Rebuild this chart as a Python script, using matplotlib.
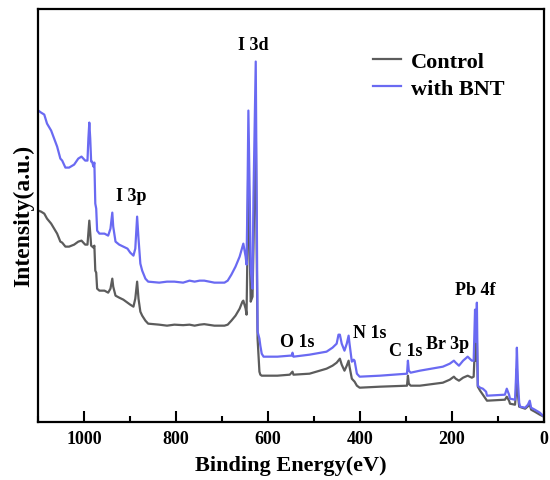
import matplotlib
matplotlib.use("Agg")
import matplotlib.pyplot as plt
from matplotlib.ticker import MultipleLocator

# XPS survey spectra: binding energy (eV) and intensity (a.u.)
be_control = [1100, 1094, 1087, 1081, 1072, 1063, 1059, 1052, 1048, 1041, 1033, 1022,
              1013, 1006, 998, 993, 989, 985, 980, 978, 976, 974, 972, 967, 956, 948,
              943, 939, 937, 932, 924, 915, 906, 900, 893, 889, 885, 882, 878, 874,
              867, 861, 837, 820, 804, 785, 771, 760, 749, 739, 717, 695, 688, 680,
              671, 662, 656, 654, 649, 647, 645, 643, 640, 638, 634, 632, 627, 625,
              623, 619, 617, 614, 610, 580, 553, 547, 545, 510, 473, 460, 451, 444,
              440, 434, 429, 425, 423, 418, 412, 407, 401, 357, 298, 296, 294, 290,
              270, 220, 205, 196, 192, 185, 176, 166, 157, 153, 150, 148, 146, 144,
              139, 133, 124, 85, 81, 76, 74, 63, 61, 59, 57, 54, 41, 31, 28, 20, 9, 0]
int_control = [211, 210, 208, 203, 198, 191, 188, 180, 179, 175, 175, 177,
               180, 181, 177, 177, 201, 176, 174, 176, 151, 149, 133, 131, 131, 129,
               133, 143, 135, 126, 124, 122, 119, 117, 115, 123, 140, 123, 110, 106,
               101, 98, 97, 96, 97, 96.5, 97, 96, 97, 97.5, 96, 96, 97, 101,
               106, 113, 120, 121, 113, 107, 173, 273, 173, 120, 125, 173, 303, 173,
               83, 50, 47, 46, 46, 46, 47, 50, 47, 48, 53, 56, 59, 63,
               57, 51, 56, 61, 55, 43, 40, 36, 34, 35, 36, 46, 38, 36,
               36, 39, 42, 45, 43, 41, 44, 46, 44, 45, 78, 61, 83, 35,
               31, 27, 21, 22, 25, 21, 18, 17, 28, 53, 28, 15, 13, 17, 12, 10, 7, 5]

be_bnt = [1100, 1094, 1087, 1081, 1072, 1063, 1059, 1052, 1048, 1041, 1033, 1022,
          1013, 1006, 998, 993, 991, 989, 987, 985, 983, 980, 978, 976, 974, 972,
          967, 956, 948, 943, 939, 937, 932, 924, 915, 906, 900, 893, 889, 885,
          882, 878, 874, 867, 861, 837, 820, 804, 785, 771, 760, 749, 739, 717,
          695, 688, 680, 671, 662, 656, 654, 649, 647, 645, 643, 640, 638, 634,
          632, 627, 625, 623, 619, 617, 614, 610, 580, 553, 549, 547, 545, 510,
          473, 460, 451, 447, 444, 440, 434, 429, 425, 423, 418, 414, 412, 407,
          401, 357, 298, 296, 294, 290, 270, 220, 205, 196, 192, 185, 176, 166,
          157, 153, 150, 148, 146, 144, 139, 133, 126, 124, 85, 81, 76, 74,
          63, 61, 59, 57, 54, 52, 41, 35, 31, 28, 20, 9, 0]
int_bnt = [311, 309, 307, 298, 291, 280, 275, 263, 261, 254, 254, 257,
           263, 265, 261, 261, 283, 299, 283, 260, 260, 255, 259, 218, 213, 191,
           188, 188, 186, 193, 209, 195, 180, 177, 175, 173, 169, 166, 173, 205,
           183, 158, 151, 143, 140, 139, 140, 140, 139, 141, 140, 141, 141, 139,
           139, 141, 147, 155, 165, 175, 178, 165, 157, 223, 311, 223, 153, 133,
           223, 360, 223, 90, 83, 76, 68, 65, 65, 66, 66, 69, 65, 67,
           70, 74, 78, 87, 87, 78, 71, 78, 86, 78, 60, 62, 61, 48,
           45, 46, 48, 61, 51, 49, 51, 55, 58, 61, 59, 56, 61, 65,
           61, 61, 112, 80, 119, 36, 34, 33, 30, 26, 27, 33, 27, 23,
           22, 43, 74, 43, 19, 15, 14, 17, 21, 14, 12, 9, 5]

series_names = ["Control", "with BNT"]
series_colors = ["#5c5c5c", "#6a6af2"]

peak_labels = ["I 3d", "I 3p", "O 1s", "N 1s", "C 1s", "Br 3p", "Pb 4f"]
peak_label_be = [632, 898, 536, 379, 301, 209, 150]
peak_label_int = [377, 226, 80, 89, 71, 78, 132]

plt.rcParams["font.family"] = ["Liberation Serif", "DejaVu Serif"]
plt.rcParams["font.weight"] = "bold"

fig = plt.figure(figsize=(5.5, 4.81), dpi=100)
ax = fig.add_axes([0.0696, 0.1212, 0.9195, 0.859])

ax.plot(be_control, int_control, color=series_colors[0], lw=1.6, label=series_names[0])
ax.plot(be_bnt, int_bnt, color=series_colors[1], lw=1.6, label=series_names[1])

for txt, xb, yi in zip(peak_labels, peak_label_be, peak_label_int):
    ax.text(xb, yi, txt, ha="center", va="center", fontsize=13, fontweight="bold")

ax.set_xlim(1100, 0)
ax.set_ylim(0, 413)
ax.xaxis.set_major_locator(MultipleLocator(200))
ax.xaxis.set_minor_locator(MultipleLocator(100))
ax.tick_params(axis="x", which="major", direction="in", length=8, width=1.5,
               labelsize=13, pad=6)
ax.tick_params(axis="x", which="minor", direction="in", length=4, width=1.5)
ax.set_yticks([])
for lab in ax.get_xticklabels():
    lab.set_fontweight("bold")
for sp in ax.spines.values():
    sp.set_linewidth(1.6)

ax.set_xlabel("Binding Energy(eV)", fontsize=16, fontweight="bold", labelpad=6)
ax.set_ylabel("Intensity(a.u.)", fontsize=17, fontweight="bold", labelpad=3)

ax.legend(loc="upper left", bbox_to_anchor=(0.662, 0.896), frameon=False,
          prop={"family": ["Liberation Serif"], "weight": "bold", "size": 16},
          handlelength=1.25, handletextpad=0.45, labelspacing=0.3,
          borderpad=0, borderaxespad=0)

fig.savefig("out.png", dpi=100)
